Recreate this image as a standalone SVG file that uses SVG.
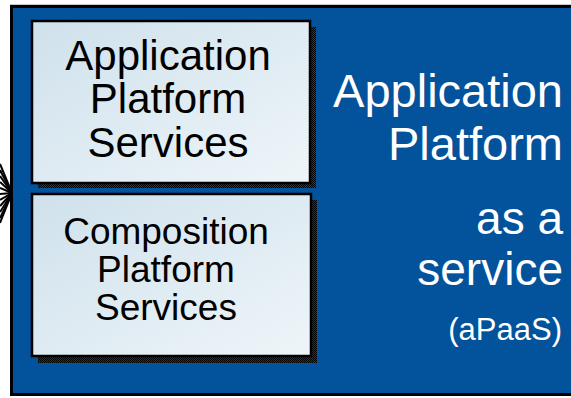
<svg xmlns="http://www.w3.org/2000/svg" width="571" height="398" viewBox="0 0 571 398">
<defs>
<linearGradient id="boxFill" x1="0" y1="0" x2="1" y2="1">
<stop offset="0" stop-color="#cfe1ec"/>
<stop offset="1" stop-color="#eef5f9"/>
</linearGradient>
<pattern id="shadowPat" width="2" height="2" patternUnits="userSpaceOnUse">
<rect width="2" height="2" fill="#1a3a66"/>
<rect width="1" height="1" fill="#000000"/>
<rect x="1" y="1" width="1" height="1" fill="#000000"/>
</pattern>
</defs>
<style>
.box{fill:url(#boxFill);stroke:#000;stroke-width:2.5}
.shadow{fill:url(#shadowPat)}
.dark{font-family:"Liberation Sans",Arial,sans-serif;fill:#000;text-anchor:middle}
.light{font-family:"Liberation Sans",Arial,sans-serif;fill:#fff;text-anchor:end}
.fan line{stroke:#000;stroke-width:2}
</style>
<rect width="571" height="398" fill="#fff"/>
<line x1="10" y1="4.5" x2="571" y2="4.5" stroke="#c8c8c8" stroke-width="1"/>
<g id="platform">
<rect x="11.5" y="6.5" width="565" height="388" fill="#02529c" stroke="#000" stroke-width="3"/>
<text class="light" font-size="47" x="563" y="107">Application</text>
<text class="light" font-size="47" x="563" y="160">Platform</text>
<text class="light" font-size="46" x="563" y="234">as a</text>
<text class="light" font-size="46" x="563" y="285">service</text>
<text class="light" font-size="31" x="562" y="340">(aPaaS)</text>
</g>
<g id="connectors" class="fan">
<line x1="12" y1="193" x2="0" y2="164"/>
<line x1="12" y1="193" x2="0" y2="170"/>
<line x1="12" y1="193" x2="0" y2="176"/>
<line x1="12" y1="193" x2="0" y2="182"/>
<line x1="12" y1="193" x2="0" y2="188"/>
<line x1="12" y1="193" x2="0" y2="194"/>
<line x1="12" y1="193" x2="0" y2="200"/>
<line x1="12" y1="193" x2="0" y2="206"/>
<line x1="12" y1="193" x2="0" y2="212"/>
<line x1="12" y1="193" x2="0" y2="218"/>
<line x1="12" y1="193" x2="0" y2="223"/>
</g>
<g id="app-services">
<rect class="shadow" x="38" y="27" width="278" height="161"/>
<rect class="box" x="32" y="21" width="278" height="162"/>
<text class="dark" font-size="42" x="168" y="70">Application</text>
<text class="dark" font-size="42" x="168" y="113">Platform</text>
<text class="dark" font-size="42" x="168" y="157">Services</text>
</g>
<g id="comp-services">
<rect class="shadow" x="38" y="200" width="279" height="163"/>
<rect class="box" x="32" y="194" width="279" height="162"/>
<text class="dark" font-size="37" x="166" y="244">Composition</text>
<text class="dark" font-size="37" x="166" y="282">Platform</text>
<text class="dark" font-size="37" x="166" y="320">Services</text>
</g>
</svg>
